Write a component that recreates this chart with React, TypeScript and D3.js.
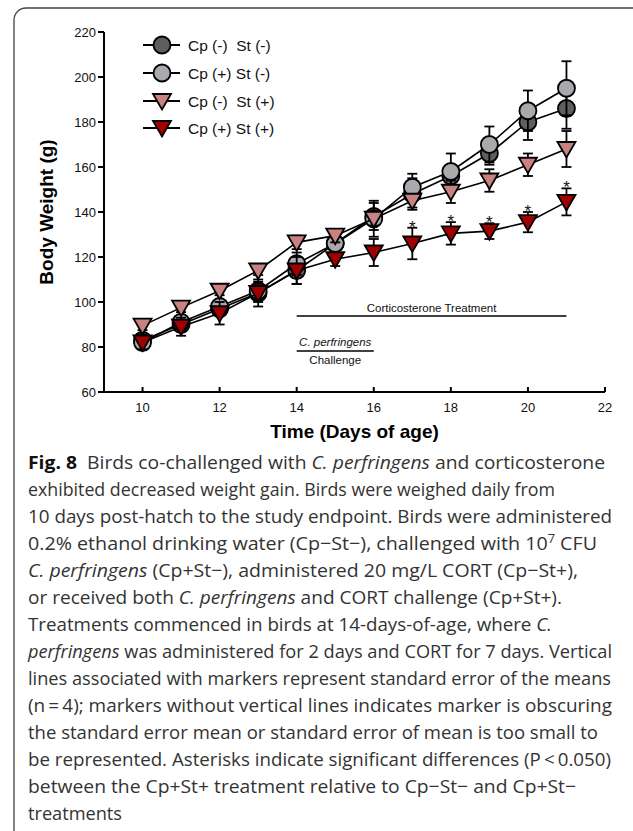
import * as d3 from 'd3';

// days of age
const days = [10, 11, 12, 13, 14, 15, 16, 17, 18, 19, 20, 21];

// body weight means (g)
const cpNegStNeg = [83, 90, 97, 104, 114, 126, 138, 148, 156, 166, 180, 186];
const cpPosStNeg = [82, 91, 98, 105, 117, 126, 137, 151, 158, 170, 185, 195];
const cpNegStPos = [89.5, 97.5, 105, 114, 126.5, 129.5, 137, 145, 149, 154, 161, 168];
const cpPosStPos = [82, 89, 95, 104, 114, 119, 122, 126, 130.5, 131.5, 135.5, 144.5];

// standard errors
const errNegNeg = [2, 3, 3, 6, 6, 3, 6, 7, 5, 5, 8, 9];
const errPosNeg = [2, 3, 3, 4, 5, 3, 8, 6, 8, 8, 9, 12];
const errNegPos = [2, 2, 2, 2, 3, 3, 3, 3, 5, 5, 5, 8];
const errPosPos = [3, 4, 5, 4, 6, 3, 6, 7, 5, 3.5, 4.5, 6];

// days with significant difference for Cp(+) St(+)
const starDays = [17, 18, 19, 20, 21];

const seriesLabels = ['Cp (-)  St (-)', 'Cp (+) St (-)', 'Cp (-)  St (+)', 'Cp (+) St (+)'];
const xTicks = [10, 12, 14, 16, 18, 20, 22];
const yTicks = [60, 80, 100, 120, 140, 160, 180, 200, 220];

// caption lines: [text, style]
const captionLines: [string, string][][] = [
  [['Fig. 8', 'b'], ['  Birds co-challenged with ', ''], ['C. perfringens', 'i'], [' and corticosterone', '']],
  [['exhibited decreased weight gain. Birds were weighed daily from', '']],
  [['10 days post-hatch to the study endpoint. Birds were administered', '']],
  [['0.2% ethanol drinking water (Cp\u2212St\u2212), challenged with 10', ''], ['7', 'sup'], [' CFU', '']],
  [['C. perfringens', 'i'], [' (Cp+St\u2212), administered 20 mg/L CORT (Cp\u2212St+),', '']],
  [['or received both ', ''], ['C. perfringens', 'i'], [' and CORT challenge (Cp+St+).', '']],
  [['Treatments commenced in birds at 14-days-of-age, where ', ''], ['C.', 'i']],
  [['perfringens', 'i'], [' was administered for 2 days and CORT for 7 days. Vertical', '']],
  [['lines associated with markers represent standard error of the means', '']],
  [['(n\u2009=\u20094); markers without vertical lines indicates marker is obscuring', '']],
  [['the standard error mean or standard error of mean is too small to', '']],
  [['be represented. Asterisks indicate significant differences (P\u2009<\u20090.050)', '']],
  [['between the Cp+St+ treatment relative to Cp\u2212St\u2212 and Cp+St\u2212', '']],
  [['treatments', '']],
];
const captionEnds = [605, 555, 612, 597, 578, 562, 552, 612, 611, 612, 598, 611, 576, 122];

const W = 633;
const H = 831;
const font = 'Arial, "Liberation Sans", sans-serif';
const capFont = '"Open Sans", "Noto Sans", sans-serif';

const styles = [
  { shape: 'circle', fill: '#5e5e5e' },
  { shape: 'circle', fill: '#a9a9ae' },
  { shape: 'tri', fill: '#c98282' },
  { shape: 'tri', fill: '#a00000' },
];

function Marker({ shape, fill, cx, cy }: { shape: string; fill: string; cx: number; cy: number }) {
  if (shape === 'circle') {
    return <circle cx={cx} cy={cy} r={8.5} fill={fill} stroke="#000" strokeWidth={1.8} />;
  }
  const p = `M${cx - 9},${cy - 7} L${cx + 9},${cy - 7} L${cx},${cy + 8.5} Z`;
  return <path d={p} fill={fill} stroke="#000" strokeWidth={1.8} strokeLinejoin="miter" />;
}

export default function App() {
  const x = d3.scaleLinear().domain([9, 22]).range([104, 605]);
  const y = d3.scaleLinear().domain([60, 220]).range([392, 32]);

  const series = [
    { vals: cpNegStNeg, errs: errNegNeg },
    { vals: cpPosStNeg, errs: errPosNeg },
    { vals: cpNegStPos, errs: errNegPos },
    { vals: cpPosStPos, errs: errPosPos },
  ];

  const line = d3
    .line<number>()
    .x((_, i) => x(days[i]))
    .y((d) => y(d));

  return (
    <svg width={W} height={H} style={{ position: 'absolute', left: 0, top: 0, background: '#fff' }}>
      <rect width={W} height={H} fill="#fff" />
      {/* frame */}
      <path d={`M${W},8 H26 A12,12 0 0 0 14,20 V${H}`} fill="none" stroke="#444" strokeWidth={1.3} />

      {/* series */}
      {series.map((s, si) => (
        <g key={si}>
          <path d={line(s.vals) || ''} fill="none" stroke="#000" strokeWidth={1.6} />
          {s.vals.map((v, i) => {
            const cx = x(days[i]);
            const top = y(v + s.errs[i]);
            const bot = y(v - s.errs[i]);
            return (
              <g key={i} stroke="#000" strokeWidth={1.8}>
                <line x1={cx} x2={cx} y1={top} y2={bot} />
                <line x1={cx - 5} x2={cx + 5} y1={top} y2={top} />
                <line x1={cx - 5} x2={cx + 5} y1={bot} y2={bot} />
              </g>
            );
          })}
          {s.vals.map((v, i) => (
            <Marker key={i} shape={styles[si].shape} fill={styles[si].fill} cx={x(days[i])} cy={y(v)} />
          ))}
        </g>
      ))}

      {/* asterisks */}
      {starDays.map((d) => {
        const i = days.indexOf(d);
        return (
          <text key={d} x={x(d)} y={y(cpPosStPos[i] + errPosPos[i]) + 5} textAnchor="middle" fontFamily={font} fontSize={17} fill="#111">
            *
          </text>
        );
      })}

      {/* treatment annotations */}
      <line x1={x(14)} x2={x(21)} y1={316} y2={316} stroke="#000" strokeWidth={1.6} />
      <text x={(x(14) + x(21)) / 2} y={312} textAnchor="middle" fontFamily={font} fontSize={11.5} fill="#111">
        Corticosterone Treatment
      </text>
      <line x1={x(14)} x2={x(16)} y1={351} y2={351} stroke="#000" strokeWidth={1.6} />
      <text x={(x(14) + x(16)) / 2} y={346} textAnchor="middle" fontFamily={font} fontSize={11.5} fontStyle="italic" fill="#111">
        C. perfringens
      </text>
      <text x={(x(14) + x(16)) / 2} y={363.5} textAnchor="middle" fontFamily={font} fontSize={11.5} fill="#111">
        Challenge
      </text>

      {/* axes */}
      <g stroke="#000" strokeWidth={2}>
        <line x1={104} x2={104} y1={y(220)} y2={y(60)} />
        <line x1={103} x2={x(22)} y1={y(60)} y2={y(60)} />
        {yTicks.map((t) => (
          <line key={t} x1={98} x2={104} y1={y(t)} y2={y(t)} />
        ))}
        {xTicks.map((t) => (
          <line key={t} x1={x(t)} x2={x(t)} y1={y(60)} y2={y(60) - 5} />
        ))}
      </g>
      {yTicks.map((t) => (
        <text key={t} x={96} y={y(t) + 4.5} textAnchor="end" fontFamily={font} fontSize={13} fill="#111">
          {t}
        </text>
      ))}
      {xTicks.map((t) => (
        <text key={t} x={x(t)} y={412} textAnchor="middle" fontFamily={font} fontSize={13} fill="#111">
          {t}
        </text>
      ))}
      <text x={354.5} y={438} textAnchor="middle" fontFamily={font} fontSize={19} fontWeight="bold" fill="#000">
        Time (Days of age)
      </text>
      <text transform={`translate(53,212) rotate(-90)`} textAnchor="middle" fontFamily={font} fontSize={19} fontWeight="bold" fill="#000">
        Body Weight (g)
      </text>

      {/* legend */}
      {seriesLabels.map((lab, i) => {
        const ly = [45, 73, 101, 128][i];
        return (
          <g key={lab}>
            <line x1={143} x2={180} y1={ly} y2={ly} stroke="#000" strokeWidth={1.8} />
            <Marker shape={styles[i].shape} fill={styles[i].fill} cx={162} cy={ly} />
            <text x={188} y={ly + 5.5} fontFamily={font} fontSize={15.5} fill="#111" style={{ whiteSpace: 'pre' }}>
              {lab}
            </text>
          </g>
        );
      })}

      {/* caption */}
      {captionLines.map((segs, li) => (
        <text
          key={li}
          x={28}
          y={463 + 27 * li + 6}
          fontFamily={capFont}
          fontSize={18.5}
          fill="#333"
          textLength={captionEnds[li] - 28}
          lengthAdjust="spacingAndGlyphs"
          style={{ whiteSpace: 'pre' }}
        >
          {segs.map(([t, st], k) => {
            if (st === 'sup')
              return (
                <tspan key={k} dy={-7} fontSize={12}>
                  {t}
                </tspan>
              );
            const prevSup = k > 0 && segs[k - 1][1] === 'sup';
            return (
              <tspan
                key={k}
                dy={prevSup ? 7 : undefined}
                fontWeight={st === 'b' ? 'bold' : undefined}
                fontStyle={st === 'i' ? 'italic' : undefined}
                fill={st === 'b' ? '#111' : undefined}
              >
                {t}
              </tspan>
            );
          })}
        </text>
      ))}
    </svg>
  );
}
